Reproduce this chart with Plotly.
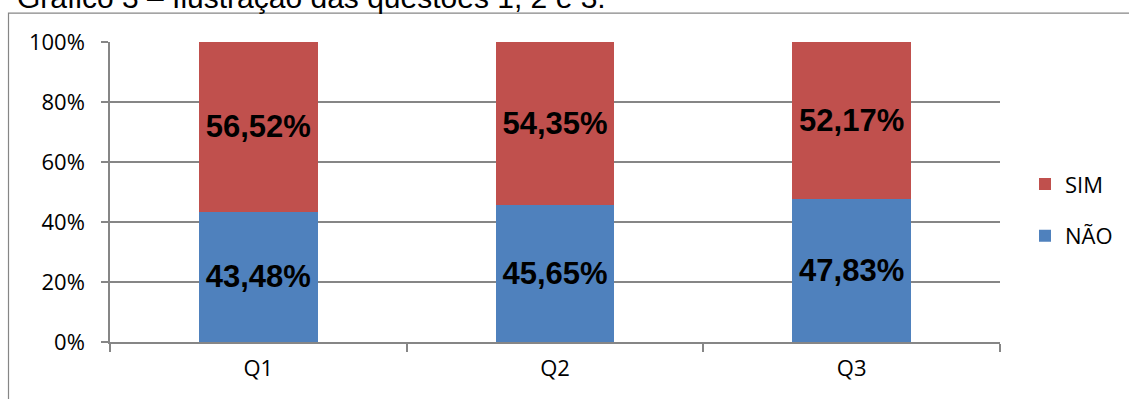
import plotly.graph_objects as go

# Survey answers per question (percent of respondents)
questoes = ["Q1", "Q2", "Q3"]
nao = [43.48, 45.65, 47.83]
sim = [56.52, 54.35, 52.17]
y_ticks = [0, 20, 40, 60, 80, 100]
y_tick_labels = ["0%", "20%", "40%", "60%", "80%", "100%"]

W, H = 1129, 399
L, R, T, B = 110, 129, 41.5, 57
PW = W - L - R
PH = H - T - B


def px_x(px):
    return (px - L) / PW


def px_y(py):
    return (H - B - py) / PH


GRAY = "#868686"
label_font = dict(family="Liberation Sans, Arial", size=31, color="black")

fig = go.Figure()
fig.add_trace(go.Bar(
    x=questoes, y=nao, name="NÃO", marker=dict(color="#4F81BD", line=dict(width=0)),
    texttemplate="<b>%{y:.2f}%</b>", textposition="inside", insidetextanchor="middle",
    textangle=0, constraintext="none", textfont=label_font,
    legendgroup="nao", legendrank=2,
))
fig.add_trace(go.Bar(
    x=questoes, y=sim, name="SIM", marker=dict(color="#C0504D", line=dict(width=0)),
    texttemplate="<b>%{y:.2f}%</b>", textposition="inside", insidetextanchor="middle",
    textangle=0, constraintext="none", textfont=label_font,
    legendgroup="sim", legendrank=1,
))

fig.update_layout(
    width=W, height=H,
    margin=dict(l=L, r=R, t=T, b=B, autoexpand=False),
    barmode="stack", bargap=0.6,
    separators=",.",
    paper_bgcolor="white", plot_bgcolor="white",
    font=dict(family="Open Sans, Noto Sans, sans-serif", size=22, color="black"),
    showlegend=True,
    legend=dict(
        x=px_x(1025), y=px_y(163), xanchor="left", yanchor="top",
        traceorder="grouped", tracegroupgap=20,
        font=dict(family="Open Sans, Noto Sans, sans-serif", size=22, color="black"),
        bgcolor="rgba(0,0,0,0)", borderwidth=0,
    ),
    xaxis=dict(
        type="category", showgrid=False, showline=True, linecolor=GRAY, linewidth=1.5,
        ticks="outside", tickson="boundaries", ticklen=8, tickcolor=GRAY, tickwidth=1.5,
        tickfont=dict(size=22), ticklabelstandoff=6,
    ),
    yaxis=dict(
        range=[0, 100], tickmode="array", tickvals=y_ticks, ticktext=y_tick_labels,
        showgrid=True, gridcolor=GRAY, gridwidth=1.5,
        showline=True, linecolor=GRAY, linewidth=1.5,
        ticks="outside", ticklen=7, tickcolor=GRAY, tickwidth=1.5,
        tickfont=dict(size=22), ticklabelstandoff=12, zeroline=False,
    ),
)

# Outer chart frame
fig.add_shape(
    type="rect", xref="paper", yref="paper",
    x0=px_x(8.5), x1=px_x(W + 10), y0=px_y(12.5), y1=px_y(H + 10),
    line=dict(color=GRAY, width=1.2), fillcolor="rgba(0,0,0,0)", layer="below",
)

# Caption above the frame
fig.add_annotation(
    text="Gráfico 3 – Ilustração das questões 1, 2 e 3.",
    xref="paper", yref="paper", x=px_x(15), y=px_y(15),
    xanchor="left", yanchor="bottom", showarrow=False,
    font=dict(family="Liberation Sans, Arial", size=30, color="black"),
)

fig.write_html("out.html")
